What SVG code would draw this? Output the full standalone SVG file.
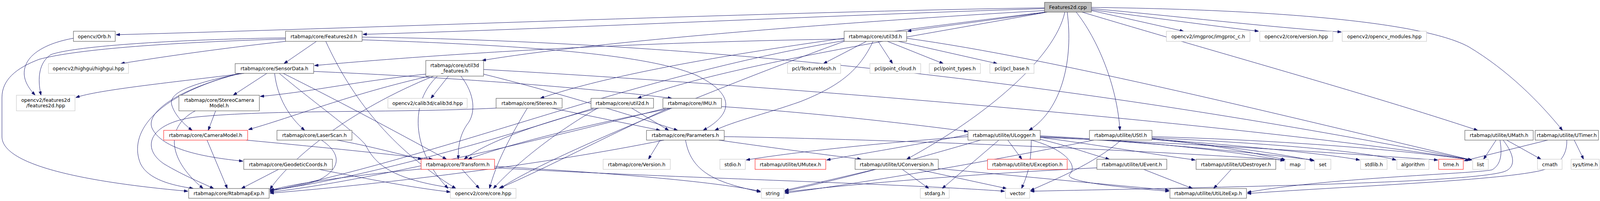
<svg xmlns="http://www.w3.org/2000/svg" width="4168" height="515" viewBox="0 0 4168 515">
<defs>
<style>
.nd rect{fill:#fff;stroke:#404040;stroke-width:1}
.ex rect{fill:#fff;stroke:#bfbfbf;stroke-width:1}
.tr rect{fill:#fff;stroke:#ff0000;stroke-width:1}
.rt rect{fill:#bfbfbf;stroke:#404040;stroke-width:1}
text{font-family:"DejaVu Sans","Liberation Sans",sans-serif;font-size:12.5px;text-anchor:middle;fill:#000}
#edges path{fill:none;stroke:#191970;stroke-width:1;marker-end:url(#ah)}
</style>
<marker id="ah" viewBox="0 0 10 7" refX="10" refY="3.5" markerWidth="10" markerHeight="7" markerUnits="userSpaceOnUse" orient="auto">
<path d="M0,0 L10,3.5 L0,7 z" fill="#191970" stroke="#191970"/>
</marker>
</defs>
<rect x="0" y="0" width="4168" height="515" fill="#fff"/>
<g id="edges">
<path d="M2674,20 C2000,30 1000,70 297,89"/>
<path d="M2674,22 C2100,40 1400,75 929,88"/>
<path d="M2679,31 C2550,50 2420,66 2323,80"/>
<path d="M2674,27 C2100,60 1500,110 1234,155"/>
<path d="M2676,31 C2200,90 1650,160 1383,252"/>
<path d="M2681,31 C2300,100 1850,170 1632,252"/>
<path d="M2732,31 C2748,150 2720,280 2634,334"/>
<path d="M2726,31 C2700,150 2520,300 2321,408"/>
<path d="M2755,31 C2810,100 2860,220 2867,334"/>
<path d="M2770,31 C3100,130 3500,240 3783,334"/>
<path d="M2794,19 C3300,25 3650,60 3760,120 C3860,180 3940,260 4000,334"/>
<path d="M2794,27 L3030,80"/>
<path d="M2794,25 C2950,45 3100,66 3222,80"/>
<path d="M2794,22 C3000,40 3250,70 3434,82"/>
<path d="M810,106 L727,163"/>
<path d="M731,106 C600,120 450,140 309,163"/>
<path d="M731,97 C500,100 200,115 130,140 C100,160 95,200 105,244"/>
<path d="M731,100 C450,108 200,125 100,152 C40,175 5,205 5,250 L5,350 C5,420 200,465 481,490"/>
<path d="M927,102 C1300,115 1650,135 1783,193 C1880,240 1880,290 1800,334"/>
<path d="M927,95 C2000,110 3000,260 3768,410"/>
<path d="M834,106 C900,250 1000,380 1167,483"/>
<path d="M188,98 C120,110 60,140 62,190 C63,210 75,228 90,244"/>
<path d="M2161,100 C1500,110 1000,150 805,168"/>
<path d="M2218,106 L2108,163"/>
<path d="M2248,106 L2285,163"/>
<path d="M2272,106 L2415,163"/>
<path d="M2300,106 L2553,163"/>
<path d="M2235,106 C2200,180 2150,220 2050,260 C1950,295 1880,310 1830,334"/>
<path d="M2161,104 C1600,200 1200,380 691,490"/>
<path d="M2161,106 C1900,200 1400,400 1280,483"/>
<path d="M2321,98 C2700,150 3300,300 3768,410"/>
<path d="M625,188 C450,210 250,230 194,250"/>
<path d="M683,188 L597,244"/>
<path d="M620,188 C480,215 430,240 440,270 C448,295 470,318 492,334"/>
<path d="M703,188 C710,250 740,300 780,334"/>
<path d="M615,188 C450,230 370,290 390,330 C420,390 550,405 622,413"/>
<path d="M803,183 C1200,200 1550,230 1720,252"/>
<path d="M725,188 C850,250 1000,330 1143,408"/>
<path d="M612,188 C380,250 330,350 360,420 C380,460 440,475 495,483"/>
<path d="M715,188 C800,260 900,330 935,370 C960,420 1000,460 1167,483"/>
<path d="M1090,190 C900,210 800,235 666,247"/>
<path d="M1100,195 C900,240 750,300 636,332"/>
<path d="M1148,195 L1103,252"/>
<path d="M1238,190 C1400,230 1600,290 1735,334"/>
<path d="M1180,195 C1215,240 1220,290 1195,320 C1175,350 1173,380 1173,408"/>
<path d="M1110,195 C900,280 750,400 691,485"/>
<path d="M1120,195 C1050,260 1050,380 1147,483"/>
<path d="M1238,178 C2000,220 3200,320 3768,410"/>
<path d="M552,284 L533,334"/>
<path d="M500,284 C430,320 420,400 520,483"/>
<path d="M530,359 L582,483"/>
<path d="M630,359 C800,375 950,390 1108,408"/>
<path d="M823,359 C870,390 880,430 813,463 C760,480 720,484 691,486"/>
<path d="M863,359 C950,375 1000,390 1080,408"/>
<path d="M713,434 L618,483"/>
<path d="M817,434 C950,460 1050,480 1153,492"/>
<path d="M1078,433 C900,450 750,470 691,488"/>
<path d="M1183,434 L1227,483"/>
<path d="M1266,426 C1500,440 1800,460 1947,490"/>
<path d="M1266,430 C1700,455 2300,470 2572,490"/>
<path d="M1413,277 L1690,334"/>
<path d="M1270,277 C1000,290 700,280 500,300 C380,315 360,380 420,420 C470,450 520,470 547,483"/>
<path d="M1350,277 C1300,360 1270,420 1253,483"/>
<path d="M1533,277 C1400,310 1250,360 1188,408"/>
<path d="M1530,277 C1420,340 1320,420 1263,483"/>
<path d="M1520,277 C1200,380 900,460 691,488"/>
<path d="M1617,277 L1712,334"/>
<path d="M1720,277 C1500,320 1300,370 1198,408"/>
<path d="M1712,277 C1550,350 1400,430 1277,483"/>
<path d="M1705,277 C1300,380 900,470 691,492"/>
<path d="M1847,273 C2100,290 2350,320 2478,337"/>
<path d="M1690,359 L1660,408"/>
<path d="M1755,359 C1770,450 1850,470 1947,492"/>
<path d="M1700,359 C1400,420 1000,470 691,495"/>
<path d="M1840,359 C1950,375 2100,395 2205,408"/>
<path d="M1854,350 C2400,360 3000,390 3288,410"/>
<path d="M2640,359 C2720,380 2760,420 2740,445 C2720,460 2800,475 2993,490"/>
<path d="M2478,345 C2350,370 2200,395 2116,410"/>
<path d="M2663,352 C2800,370 2950,395 3060,410"/>
<path d="M2663,357 C2740,375 2790,395 2840,408"/>
<path d="M2580,359 L2616,408"/>
<path d="M2478,350 C2200,370 2000,395 1910,410"/>
<path d="M2663,352 C3000,365 3400,390 3681,410"/>
<path d="M2510,359 C2300,420 2150,460 2009,490"/>
<path d="M2640,359 C2640,420 2630,450 2615,483"/>
<path d="M2663,348 C2900,360 3150,385 3288,412"/>
<path d="M2663,350 C2950,365 3200,390 3363,410"/>
<path d="M2557,359 L2412,483"/>
<path d="M2949,350 C3300,360 3600,385 3768,410"/>
<path d="M2949,355 C3100,370 3200,390 3290,409"/>
<path d="M2949,357 C3150,375 3280,395 3365,412"/>
<path d="M2870,359 C2800,420 2700,460 2638,488"/>
<path d="M2800,359 C2500,420 2200,470 2009,495"/>
<path d="M2949,353 C3300,370 3500,390 3574,410"/>
<path d="M2949,356 C3200,375 3400,395 3481,410"/>
<path d="M2240,434 L2009,488"/>
<path d="M2350,434 L2577,483"/>
<path d="M2310,434 L2378,483"/>
<path d="M2402,432 C2600,450 2800,470 2993,487"/>
<path d="M2808,430 C2500,445 2200,470 2009,492"/>
<path d="M2928,434 L3053,483"/>
<path d="M3152,434 L3107,483"/>
<path d="M3840,359 C3845,390 3845,420 3820,435 C3780,445 3400,455 3193,493"/>
<path d="M3857,359 L3945,408"/>
<path d="M3830,359 L3798,408"/>
<path d="M3848,359 C3880,400 3880,430 3850,440 C3750,470 3100,480 2638,490"/>
<path d="M4011,359 C4012,400 3990,430 3930,440 C3800,465 3400,480 3193,496"/>
<path d="M4030,359 L4054,408"/>
<path d="M3962,359 L3748,412"/>
</g>
<g id="cpp" class="rt"><rect x="2674" y="6" width="120" height="25"/><text x="2734" y="23">Features2d.cpp</text></g>
<g id="orb" class="nd"><rect x="188" y="80" width="107" height="26"/><text x="241.5" y="97.5">opencv/Orb.h</text></g>
<g id="f2dh" class="nd"><rect x="731" y="80" width="196" height="26"/><text x="829" y="97.5">rtabmap/core/Features2d.h</text></g>
<g id="u3d" class="nd"><rect x="2161" y="80" width="160" height="26"/><text x="2241" y="97.5">rtabmap/core/util3d.h</text></g>
<g id="imgproc" class="ex"><rect x="2986" y="80" width="214" height="26"/><text x="3093" y="97.5">opencv2/imgproc/imgproc_c.h</text></g>
<g id="version" class="ex"><rect x="3225" y="80" width="187" height="26"/><text x="3318.5" y="97.5">opencv2/core/version.hpp</text></g>
<g id="modules" class="ex"><rect x="3436" y="80" width="216" height="26"/><text x="3544" y="97.5">opencv2/opencv_modules.hpp</text></g>
<g id="highgui" class="ex"><rect x="124" y="163" width="205" height="25"/><text x="226.5" y="180">opencv2/highgui/highgui.hpp</text></g>
<g id="sensor" class="nd"><rect x="602" y="163" width="201" height="25"/><text x="702.5" y="180">rtabmap/core/SensorData.h</text></g>
<g id="u3df" class="nd"><rect x="1090" y="155" width="148" height="40"/><text x="1164" y="171.5">rtabmap/core/util3d</text><text x="1164" y="186">_features.h</text></g>
<g id="texmesh" class="ex"><rect x="2016" y="163" width="136" height="25"/><text x="2084" y="180">pcl/TextureMesh.h</text></g>
<g id="pcloud" class="ex"><rect x="2227" y="163" width="130" height="25"/><text x="2292" y="180">pcl/point_cloud.h</text></g>
<g id="ptypes" class="ex"><rect x="2379" y="163" width="131" height="25"/><text x="2444.5" y="180">pcl/point_types.h</text></g>
<g id="pclbase" class="ex"><rect x="2534" y="163" width="113" height="25"/><text x="2590.5" y="180">pcl/pcl_base.h</text></g>
<g id="f2dhpp" class="ex"><rect x="42" y="244" width="150" height="40"/><text x="117" y="260.5">opencv2/features2d</text><text x="117" y="275">/features2d.hpp</text></g>
<g id="stereocam" class="nd"><rect x="458" y="244" width="206" height="40"/><text x="561" y="260.5">rtabmap/core/StereoCamera</text><text x="561" y="275">Model.h</text></g>
<g id="calib" class="ex"><rect x="993" y="252" width="203" height="25"/><text x="1094.5" y="269">opencv2/calib3d/calib3d.hpp</text></g>
<g id="stereo" class="nd"><rect x="1270" y="252" width="169" height="25"/><text x="1354.5" y="269">rtabmap/core/Stereo.h</text></g>
<g id="u2d" class="nd"><rect x="1513" y="252" width="160" height="25"/><text x="1593" y="269">rtabmap/core/util2d.h</text></g>
<g id="imu" class="nd"><rect x="1697" y="252" width="150" height="25"/><text x="1772" y="269">rtabmap/core/IMU.h</text></g>
<g id="cammodel" class="tr"><rect x="419" y="334" width="215" height="25"/><text x="526.5" y="351">rtabmap/core/CameraModel.h</text></g>
<g id="laser" class="nd"><rect x="709" y="334" width="192" height="25"/><text x="805" y="351">rtabmap/core/LaserScan.h</text></g>
<g id="params" class="nd"><rect x="1655" y="334" width="199" height="25"/><text x="1754.5" y="351">rtabmap/core/Parameters.h</text></g>
<g id="ulogger" class="nd"><rect x="2478" y="334" width="185" height="25"/><text x="2570.5" y="351">rtabmap/utilite/ULogger.h</text></g>
<g id="ustl" class="nd"><rect x="2789" y="334" width="160" height="25"/><text x="2869" y="351">rtabmap/utilite/UStl.h</text></g>
<g id="umath" class="nd"><rect x="3750" y="334" width="175" height="25"/><text x="3837.5" y="351">rtabmap/utilite/UMath.h</text></g>
<g id="utimer" class="nd"><rect x="3930" y="334" width="162" height="25"/><text x="4011" y="351">rtabmap/utilite/UTimer.h</text></g>
<g id="geo" class="nd"><rect x="624" y="408" width="227" height="26"/><text x="737.5" y="425.5">rtabmap/core/GeodeticCoords.h</text></g>
<g id="transform" class="tr"><rect x="1078" y="408" width="188" height="26"/><text x="1172" y="425.5">rtabmap/core/Transform.h</text></g>
<g id="versionh" class="ex"><rect x="1544" y="408" width="172" height="26"/><text x="1630" y="425.5">rtabmap/core/Version.h</text></g>
<g id="stdio" class="ex"><rect x="1843" y="408" width="65" height="26"/><text x="1875.5" y="425.5">stdio.h</text></g>
<g id="umutex" class="tr"><rect x="1933" y="408" width="181" height="26"/><text x="2023.5" y="425.5">rtabmap/utilite/UMutex.h</text></g>
<g id="uconv" class="nd"><rect x="2189" y="408" width="213" height="26"/><text x="2295.5" y="425.5">rtabmap/utilite/UConversion.h</text></g>
<g id="uexc" class="tr"><rect x="2528" y="408" width="204" height="26"/><text x="2630" y="425.5">rtabmap/utilite/UException.h</text></g>
<g id="uevent" class="nd"><rect x="2808" y="408" width="179" height="26"/><text x="2897.5" y="425.5">rtabmap/utilite/UEvent.h</text></g>
<g id="udest" class="nd"><rect x="3062" y="408" width="204" height="26"/><text x="3164" y="425.5">rtabmap/utilite/UDestroyer.h</text></g>
<g id="map" class="ex"><rect x="3290" y="408" width="51" height="26"/><text x="3315.5" y="425.5">map</text></g>
<g id="set" class="ex"><rect x="3365" y="408" width="42" height="26"/><text x="3386" y="425.5">set</text></g>
<g id="stdlib" class="ex"><rect x="3483" y="408" width="68" height="26"/><text x="3517" y="425.5">stdlib.h</text></g>
<g id="algorithm" class="ex"><rect x="3576" y="408" width="82" height="26"/><text x="3617" y="425.5">algorithm</text></g>
<g id="time" class="tr"><rect x="3683" y="408" width="63" height="26"/><text x="3714.5" y="425.5">time.h</text></g>
<g id="list" class="ex"><rect x="3770" y="408" width="40" height="26"/><text x="3790" y="425.5">list</text></g>
<g id="cmath" class="ex"><rect x="3936" y="408" width="63" height="26"/><text x="3967.5" y="425.5">cmath</text></g>
<g id="systime" class="ex"><rect x="4022" y="408" width="72" height="26"/><text x="4058" y="425.5">sys/time.h</text></g>
<g id="rexp" class="nd"><rect x="483" y="483" width="206" height="25"/><text x="586" y="500">rtabmap/core/RtabmapExp.h</text></g>
<g id="core" class="ex"><rect x="1153" y="483" width="168" height="25"/><text x="1237" y="500">opencv2/core/core.hpp</text></g>
<g id="string" class="ex"><rect x="1949" y="483" width="58" height="25"/><text x="1978" y="500">string</text></g>
<g id="stdarg" class="ex"><rect x="2356" y="483" width="74" height="25"/><text x="2393" y="500">stdarg.h</text></g>
<g id="vector" class="ex"><rect x="2574" y="483" width="62" height="25"/><text x="2605" y="500">vector</text></g>
<g id="uexp" class="nd"><rect x="2995" y="483" width="196" height="25"/><text x="3093" y="500">rtabmap/utilite/UtiLiteExp.h</text></g>
</svg>
